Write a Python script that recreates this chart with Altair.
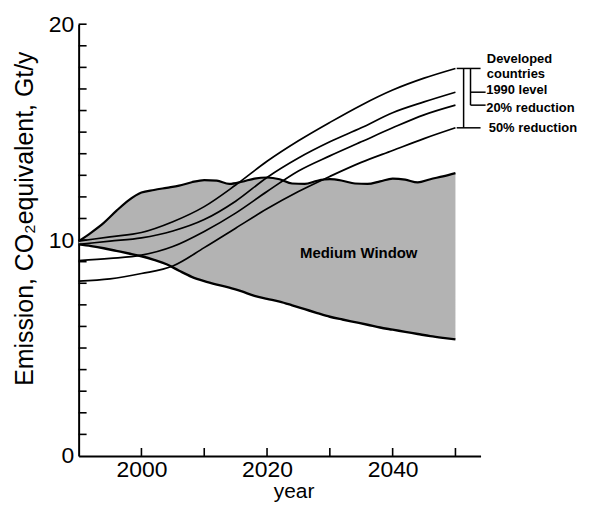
import altair as alt
import pandas as pd

# ---- data ----
band_years = list(range(1990, 2051, 2))
band_upper = [9.95, 10.35, 10.8, 11.35, 11.85, 12.2, 12.32, 12.42, 12.52, 12.68,
              12.78, 12.75, 12.6, 12.7, 12.85, 12.9, 12.82, 12.62, 12.6, 12.75,
              12.82, 12.75, 12.62, 12.6, 12.72, 12.85, 12.8, 12.67, 12.82, 12.95, 13.1]
band_lower = [9.8, 9.72, 9.62, 9.5, 9.38, 9.25, 9.08, 8.88, 8.58, 8.3,
              8.1, 7.94, 7.8, 7.62, 7.42, 7.28, 7.15, 6.98, 6.8, 6.62,
              6.45, 6.32, 6.2, 6.08, 5.95, 5.85, 5.75, 5.65, 5.55, 5.47, 5.4]

line_years = [1990, 1995, 2000, 2005, 2010, 2015, 2020, 2025, 2030, 2035, 2040, 2045, 2050]
dev_1990_a = [9.95, 10.15, 10.35, 10.85, 11.55, 12.55, 13.65, 14.6, 15.45, 16.25, 16.95, 17.5, 17.95]
dev_1990_b = [9.8, 9.95, 10.1, 10.42, 10.95, 11.8, 12.9, 13.8, 14.55, 15.2, 15.9, 16.4, 16.85]
dev_20pct = [9.05, 9.15, 9.3, 9.7, 10.4, 11.25, 12.25, 13.2, 13.9, 14.55, 15.2, 15.8, 16.25]
dev_50pct = [8.1, 8.2, 8.45, 8.8, 9.65, 10.55, 11.45, 12.25, 12.95, 13.6, 14.15, 14.7, 15.2]

y_label_values = [0, 10, 20]
y_minor_ticks = list(range(1, 21))
x_label_values = [2000, 2020, 2040]
x_major_ticks = [2000, 2010, 2020, 2030, 2040, 2050]

bracket_labels = ["Developed", "countries", "1990 level", "20% reduction", "50% reduction"]
window_label = "Medium Window"

# ---- chart ----
W, H = 404, 434
FONT = "Liberation Sans"

xs = alt.Scale(domain=[1990, 2054], nice=False, zero=False)
ys = alt.Scale(domain=[0, 20], nice=False, zero=False)

xaxis = alt.Axis(
    values=x_label_values, format="d", title="year", ticks=False, grid=False,
    labelFontSize=23, labelPadding=3, labelFont=FONT, labelColor="black",
    titleFont=FONT, titleFontSize=21, titleFontWeight="normal", titleColor="black",
    titleX=216, titleY=42, titleBaseline="alphabetic", titleAlign="center",
    domainColor="black", domainWidth=2)
yaxis = alt.Axis(
    values=y_label_values, title="Emission, CO₂equivalent, Gt/y", ticks=False, grid=False,
    labelFontSize=23, labelPadding=5, labelFont=FONT, labelColor="black",
    titleFont=FONT, titleFontSize=25, titleFontWeight="normal", titleColor="black",
    titleX=-46, titleY=195, titleAngle=270, titleBaseline="alphabetic", titleAlign="center",
    domainColor="black", domainWidth=2)


def X(f):
    return alt.X(f, scale=xs, axis=xaxis, title="year")


def Y(f):
    return alt.Y(f, scale=ys, axis=yaxis, title="Emission, CO₂equivalent, Gt/y")


band = pd.DataFrame({"year": band_years, "upper": band_upper, "lower": band_lower})

series = {"a": dev_1990_a, "b": dev_1990_b, "c": dev_20pct, "d": dev_50pct}
rows = []
for k, vals in series.items():
    for yr, v in zip(line_years, vals):
        rows.append({"year": yr, "value": v, "series": k})
lines = pd.DataFrame(rows)

area = alt.Chart(band).mark_area(color="#b3b3b3", interpolate="monotone").encode(
    x=X("year:Q"), y=Y("upper:Q"), y2="lower:Q")

upper_line = alt.Chart(band).mark_line(color="black", strokeWidth=2.2, interpolate="monotone").encode(
    x=X("year:Q"), y=Y("upper:Q"))
lower_line = alt.Chart(band).mark_line(color="black", strokeWidth=2.4, interpolate="monotone").encode(
    x=X("year:Q"), y=Y("lower:Q"))

dev_lines = alt.Chart(lines).mark_line(color="black", strokeWidth=1.7, interpolate="monotone").encode(
    x=X("year:Q"), y=Y("value:Q"), detail="series:N")

yt = alt.Chart(pd.DataFrame({"v": y_minor_ticks})).mark_rule(color="black", strokeWidth=1.6).encode(
    y=Y("v:Q"), x=alt.value(0), x2=alt.value(8))
xt = alt.Chart(pd.DataFrame({"v": x_major_ticks})).mark_rule(color="black", strokeWidth=1.6).encode(
    x=X("v:Q"), y=alt.value(H), y2=alt.value(H - 8))

# bracket built from the end values of the four lines
ea, eb, ec, ed = dev_1990_a[-1], dev_1990_b[-1], dev_20pct[-1], dev_50pct[-1]
last = line_years[-1]
br = pd.DataFrame([
    {"x": last + 1.3, "x2": last + 1.3, "y": ea, "y2": ed},
    {"x": last + 2.4, "x2": last + 2.4, "y": ea, "y2": ec},
    {"x": last + 0.2, "x2": last + 4.0, "y": ea, "y2": ea},
    {"x": last + 2.4, "x2": last + 4.8, "y": eb, "y2": eb},
    {"x": last + 2.4, "x2": last + 4.8, "y": ec, "y2": ec},
    {"x": last + 0.2, "x2": last + 4.0, "y": ed, "y2": ed},
])
bracket = alt.Chart(br).mark_rule(color="black", strokeWidth=1.5).encode(
    x=X("x:Q"), x2="x2:Q", y=Y("y:Q"), y2="y2:Q")

lab = pd.DataFrame({
    "x": [last + 5.0, last + 5.0, last + 4.9, last + 4.9, last + 5.3],
    "y": [ea + 0.42, ea - 0.28, eb + 0.08, ec - 0.12, ed - 0.02],
    "t": bracket_labels,
})
labels = alt.Chart(lab).mark_text(align="left", baseline="middle", font=FONT, fontSize=13,
                                   fontWeight="bold", color="black").encode(
    x=X("x:Q"), y=Y("y:Q"), text="t:N")

wlab = alt.Chart(pd.DataFrame({"x": [2034.6], "y": [9.4], "t": [window_label]})).mark_text(
    align="center", baseline="middle", font=FONT, fontSize=15, fontWeight="bold", color="black").encode(
    x=X("x:Q"), y=Y("y:Q"), text="t:N")

chart = alt.layer(area, upper_line, lower_line, dev_lines, yt, xt, bracket, labels, wlab).properties(
    width=W, height=H,
    autosize=alt.AutoSizeParams(type="none"),
    padding={"left": 71, "top": 15, "right": 110, "bottom": 46},
).configure_view(stroke=None)

chart.save("out.html", embed_options={"renderer": "svg", "actions": False})
